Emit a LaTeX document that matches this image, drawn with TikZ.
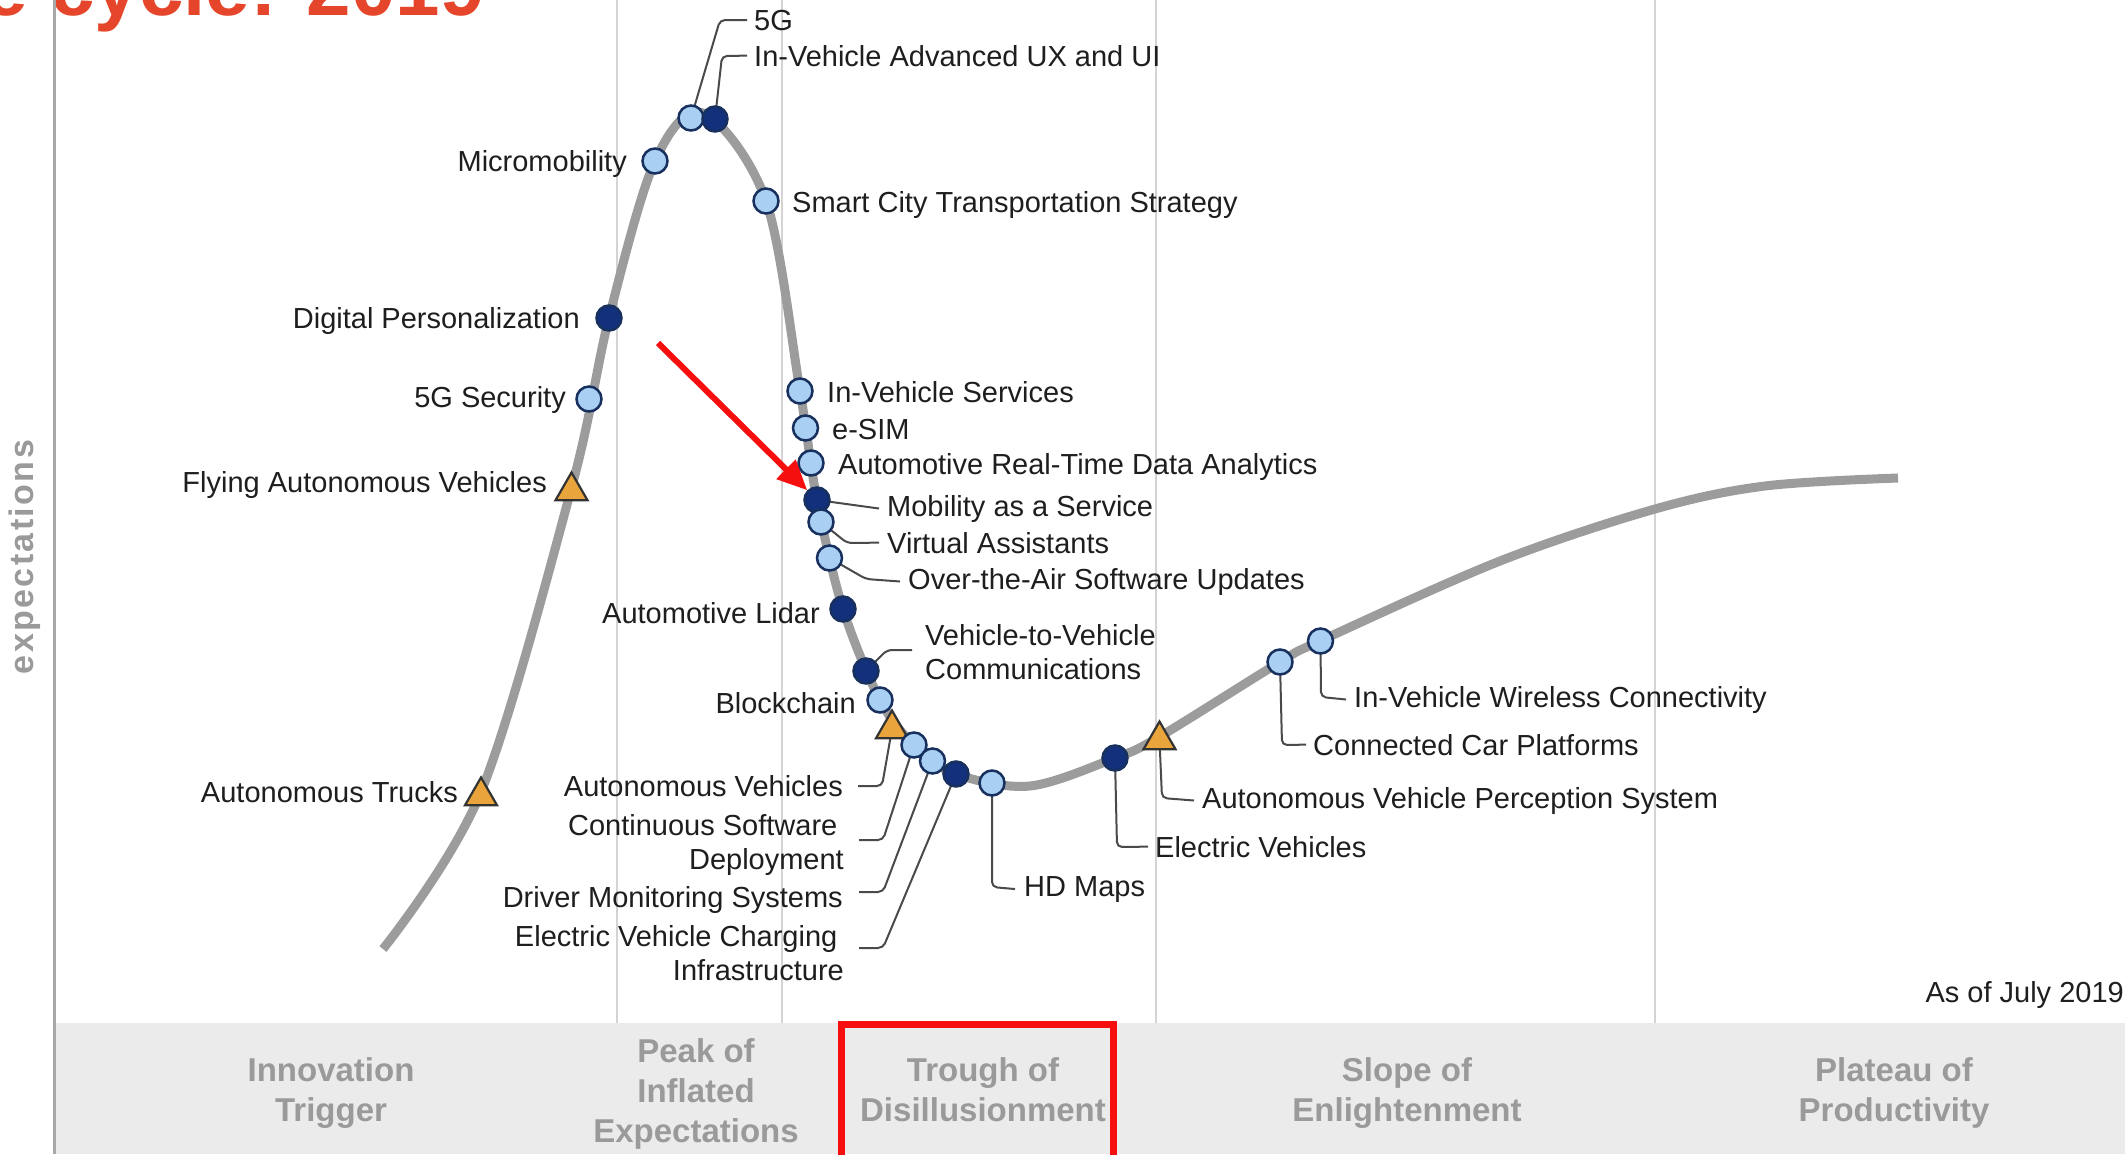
\documentclass[tikz,border=0pt]{standalone}
\usepackage{fontspec}
\setmainfont{Liberation Sans}
\usetikzlibrary{shapes.geometric,arrows.meta}
\definecolor{lightdot}{HTML}{A9CFF3}
\definecolor{darkdot}{HTML}{12307C}
\definecolor{dotedge}{HTML}{17305E}
\definecolor{tridot}{HTML}{E9A53C}
\definecolor{curvegray}{HTML}{9C9C9C}
\definecolor{gridgray}{HTML}{D4D4D4}
\definecolor{axisgray}{HTML}{A8A8A8}
\definecolor{bandgray}{HTML}{EBEBEB}
\definecolor{phasegray}{HTML}{9A9A9A}
\definecolor{titlered}{HTML}{E5462B}
\definecolor{txt}{HTML}{1E1E1E}
\definecolor{leadc}{HTML}{4A4A4A}
\definecolor{markred}{HTML}{F50F0F}
\begin{document}
\begin{tikzpicture}[x=1pt,y=-1pt,
  lbl/.style={font=\fontsize{29}{34}\selectfont, text=txt, inner sep=0pt},
  lblL/.style={lbl, anchor=base east},
  lblR/.style={lbl, anchor=base west},
  phase/.style={font=\fontsize{33}{40}\selectfont\bfseries, text=phasegray, inner sep=0pt, align=center, anchor=north},
  lightm/.style={circle, draw=dotedge, fill=lightdot, line width=2.5pt, minimum size=25pt, inner sep=0pt},
  darkm/.style={circle, draw=dotedge, fill=darkdot, line width=2.5pt, minimum size=25pt, inner sep=0pt},
  trim/.style={regular polygon, regular polygon sides=3, draw=black!80, fill=tridot, line width=2.2pt, minimum size=37pt, inner sep=0pt},
  leader/.style={draw=leadc, line width=2pt, rounded corners=5pt},
  hype/.style={draw=curvegray, line width=9pt},
]
\useasboundingbox (0,0) rectangle (2125,1154);
\clip (0,0) rectangle (2125,1154);
\fill[white] (0,0) rectangle (2125,1154);

% title (cut off at the top)
\node[anchor=base east, font=\fontsize{80}{80}\selectfont\bfseries, text=titlered, inner sep=0pt] (title) at (485,15) {e cycle: 2019};

% grid, band, axis
\foreach \gx in {617,782,1156,1655} \draw[gridgray, line width=2pt] (\gx,0) -- (\gx,1023);
\fill[bandgray] (56,1023) rectangle (2125,1154);
\draw[axisgray, line width=3pt] (54.5,0) -- (54.5,1154);

% phase labels
\node[phase] (ph1) at (331,1056) {\rule{0pt}{25pt}Innovation\\Trigger};
\node[phase] (ph2) at (696,1037) {\rule{0pt}{25pt}Peak of\\Inflated\\Expectations};
\node[phase] (ph3) at (983,1056) {\rule{0pt}{25pt}Trough of\\Disillusionment};
\node[phase] (ph4) at (1407,1056) {\rule{0pt}{25pt}Slope of\\Enlightenment};
\node[phase] (ph5) at (1894,1056) {\rule{0pt}{25pt}Plateau of\\Productivity};

\node[rotate=90, font=\fontsize{34}{34}\selectfont\bfseries\addfontfeatures{LetterSpace=7}, text=phasegray, inner sep=0pt] (ylab) at (25,557) {expectations};

\node[lbl, anchor=base east] (asof) at (2124,1002) {As of July 2019};

% the curve
\draw[hype] plot[smooth, tension=0.55] coordinates {
 (383,949) (481,792) (572,486) (609,318) (655,161) (703,113) (766,201)
 (800,391) (817,500) (843,609) (880,700) (914,745) (956,774) (1030,786)
 (1115,758) (1159,737) (1280,662) (1320,641) (1500,561) (1655,509) (1765,486) (1898,478)};

% marker positions
\coordinate (ctrucks) at (481,796);
\coordinate (cfly) at (571.5,491);
\coordinate (csec) at (589,399);
\coordinate (cdigital) at (609,318);
\coordinate (cmicro) at (655,161);
\coordinate (cg5) at (691,118);
\coordinate (cux) at (715,119);
\coordinate (csmart) at (766,201);
\coordinate (civs) at (800,391);
\coordinate (cesim) at (805.5,428);
\coordinate (cartda) at (811,463);
\coordinate (cmaas) at (817,500);
\coordinate (cva) at (821,522);
\coordinate (cota) at (829.5,558);
\coordinate (clidar) at (843,609);
\coordinate (cv2v) at (866,671);
\coordinate (cblock) at (880,700);
\coordinate (cav) at (892,729);
\coordinate (ccsd) at (914,745);
\coordinate (cdms) at (932.5,761);
\coordinate (cevci) at (956,774);
\coordinate (chd) at (992,783);
\coordinate (cev) at (1115,758);
\coordinate (cavps) at (1159.5,740);
\coordinate (cccp) at (1280,662);
\coordinate (civwc) at (1320.5,641);

% labels, left side
\node[lblL] (lmicro) at (627,171) {Micromobility};
\node[lblL] (ldigital) at (580,328) {Digital Personalization};
\node[lblL] (lsec) at (566,407) {5G Security};
\node[lblL] (lfly) at (547,492) {Flying Autonomous Vehicles};
\node[lblL] (ltrucks) at (458,802) {Autonomous Trucks};
\node[lblL] (llidar) at (820,623) {Automotive Lidar};
\node[lblL] (lblock) at (856,713) {Blockchain};
\node[lblL] (lav) at (843,796) {Autonomous Vehicles};
\node[lbl, anchor=north east, align=right] (lcsd) at (844,813) {\rule{0pt}{22pt}Continuous Software\hphantom{i}\\Deployment};
\node[lblL] (ldms) at (843,907) {Driver Monitoring Systems};
\node[lbl, anchor=north east, align=right] (levci) at (844,924) {\rule{0pt}{22pt}Electric Vehicle Charging\hphantom{i}\\Infrastructure};

% labels, right side
\node[lblR] (l5g) at (754,30) {5G};
\node[lblR] (lux) at (754,66) {In-Vehicle Advanced UX and UI};
\node[lblR] (lsmart) at (792,212) {Smart City Transportation Strategy};
\node[lblR] (livs) at (827,402) {In-Vehicle Services};
\node[lblR] (lesim) at (832,439) {e-SIM};
\node[lblR] (lartda) at (838,474) {Automotive Real-Time Data Analytics};
\node[lblR] (lmaas) at (887,516) {Mobility as a Service};
\node[lblR] (lva) at (887,553) {Virtual Assistants};
\node[lblR] (lota) at (908,589) {Over-the-Air Software Updates};
\node[lbl, anchor=north west, align=left] (lv2v) at (925,623) {\rule{0pt}{22pt}Vehicle-to-Vehicle\\Communications};
\node[lblR] (lhd) at (1024,896) {HD Maps};
\node[lblR] (lev) at (1155,857) {Electric Vehicles};
\node[lblR] (lavps) at (1202,808) {Autonomous Vehicle Perception System};
\node[lblR] (lccp) at (1313,755) {Connected Car Platforms};
\node[lblR] (livwc) at (1354,707) {In-Vehicle Wireless Connectivity};

% leaders
\draw[leader] (cg5) -- (720,20) -- ([xshift=-7pt]l5g.west);
\draw[leader] (cux) -- (722,56) -- ([xshift=-7pt]lux.west);
\draw[leader] (cmaas) -- ([xshift=-8pt]lmaas.west);
\draw[leader] (cva) -- (847,543) -- ([xshift=-8pt]lva.west);
\draw[leader] (cota) -- (866,579) -- ([xshift=-8pt]lota.west);
\coordinate (ev2v) at (912,650);
\draw[leader] (cv2v) -- (887,650) -- (ev2v);
\coordinate (eav) at (858,786);
\draw[leader] (cav) -- (882,786) -- (eav);
\coordinate (ecsd) at (859,840);
\draw[leader] (ccsd) -- (883,840) -- (ecsd);
\coordinate (edms) at (859,892);
\draw[leader] (cdms) -- (883,892) -- (edms);
\coordinate (eevci) at (859,948);
\draw[leader] (cevci) -- (883,948) -- (eevci);
\draw[leader] (chd) -- (992,887) -- ([xshift=-9pt]lhd.west);
\draw[leader] (cev) -- (1117,847) -- ([xshift=-7pt]lev.west);
\draw[leader] (cavps) -- (1162,798) -- ([xshift=-8pt]lavps.west);
\draw[leader] (cccp) -- (1282,745) -- ([xshift=-7pt]lccp.west);
\draw[leader] (civwc) -- (1321,697) -- ([xshift=-8pt]livwc.west);

% markers
\node[trim] (mtrucks) at (ctrucks) {};
\node[trim] (mfly) at (cfly) {};
\node[lightm] (msec) at (csec) {};
\node[darkm] (mdigital) at (cdigital) {};
\node[lightm] (mmicro) at (cmicro) {};
\node[lightm] (mg5) at (cg5) {};
\node[darkm] (mux) at (cux) {};
\node[lightm] (msmart) at (csmart) {};
\node[lightm] (mivs) at (civs) {};
\node[lightm] (mesim) at (cesim) {};
\node[lightm] (martda) at (cartda) {};
\node[darkm] (mmaas) at (cmaas) {};
\node[lightm] (mva) at (cva) {};
\node[lightm] (mota) at (cota) {};
\node[darkm] (mlidar) at (clidar) {};
\node[darkm] (mv2v) at (cv2v) {};
\node[lightm] (mblock) at (cblock) {};
\node[trim] (mav) at (cav) {};
\node[lightm] (mcsd) at (ccsd) {};
\node[lightm] (mdms) at (cdms) {};
\node[darkm] (mevci) at (cevci) {};
\node[lightm] (mhd) at (chd) {};
\node[darkm] (mev) at (cev) {};
\node[trim] (mavps) at (cavps) {};
\node[lightm] (mccp) at (cccp) {};
\node[lightm] (mivwc) at (civwc) {};

% red highlights
\coordinate (arrs) at (658,343);
\draw[markred, line width=6pt, -{Triangle[length=30pt,width=26pt]}] (arrs) -- (mmaas.north west);
\draw[markred, line width=7pt] (841,1024) rectangle (1113,1180);
\end{tikzpicture}
\end{document}
